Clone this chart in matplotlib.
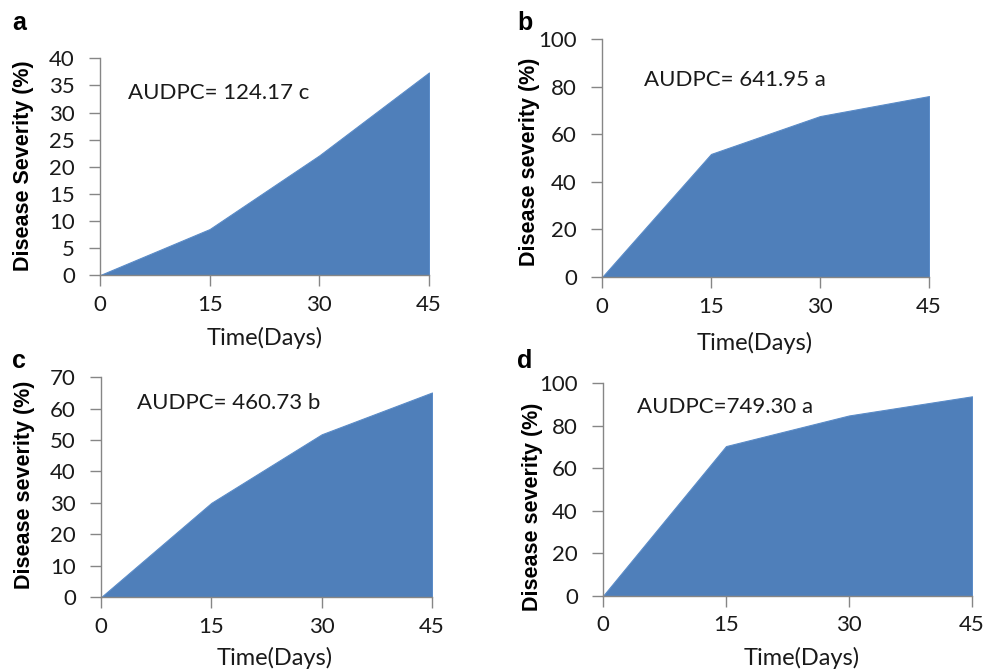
import matplotlib

matplotlib.use("Agg")
import matplotlib.pyplot as plt

# 病害严重度随时间的变化（0、15、30、45 天）
days = [0, 15, 30, 45]
severity_a = [0, 8.5, 22.1, 37.4]
severity_b = [0, 51.7, 67.6, 76.0]
severity_c = [0, 30.0, 51.8, 65.1]
severity_d = [0, 70.4, 84.8, 93.8]

panel_letters = ["a", "b", "c", "d"]
audpc_labels = ["AUDPC= 124.17 c", "AUDPC= 641.95 a", "AUDPC= 460.73 b", "AUDPC=749.30 a"]
ylabels = ["Disease Severity (%)", "Disease severity (%)",
           "Disease severity (%)", "Disease severity (%)"]
y_max = [40, 100, 70, 100]
y_step = [5, 20, 10, 20]

FILL = "#4F7FBA"
AXIS_GRAY = "#868686"
TEXT_FONT = "Lato"
TEXT_COLOR = "#1a1a1a"

fig = plt.figure(figsize=(10, 6.71), dpi=100)

# [left, bottom, width, height]
positions = [
    [0.100, 0.590, 0.329, 0.323],
    [0.602, 0.587, 0.327, 0.355],
    [0.101, 0.110, 0.331, 0.328],
    [0.603, 0.112, 0.369, 0.317],
]
text_pos = [(3.8, 33.7), (5.8, 82.8), (4.9, 61.7), (4.1, 88.7)]
letter_pos = [(0.012, 0.965), (0.517, 0.965), (0.012, 0.462), (0.517, 0.462)]
# 坐标轴标签位置（轴坐标系）
ylabel_xy = [(-0.234, 0.507), (-0.223, 0.483), (-0.230, 0.510), (-0.192, 0.420)]
xlabel_xy = [(0.50, -0.29), (0.468, -0.277), (0.526, -0.277), (0.539, -0.29)]

series = [severity_a, severity_b, severity_c, severity_d]

for i, values in enumerate(series):
    ax = fig.add_axes(positions[i])
    ax.fill_between(days, values, 0, color=FILL, edgecolor="#5B8CC8", linewidth=0.8)
    ax.set_xlim(0, 45)
    ax.set_ylim(0, y_max[i])
    ax.set_xticks(days)
    ax.set_yticks(range(0, y_max[i] + 1, y_step[i]))

    for side in ("top", "right"):
        ax.spines[side].set_visible(False)
    for side in ("left", "bottom"):
        ax.spines[side].set_color(AXIS_GRAY)
        ax.spines[side].set_linewidth(1.0)
    ax.tick_params(axis="both", direction="out", length=8, width=1.0,
                   color=AXIS_GRAY, labelsize=16)
    ax.tick_params(axis="y", pad=10)
    ax.tick_params(axis="x", pad=6)
    for lab in ax.get_xticklabels() + ax.get_yticklabels():
        lab.set_fontfamily(TEXT_FONT)
        lab.set_color(TEXT_COLOR)

    ax.set_xlabel("Time(Days)", fontsize=17, fontfamily=TEXT_FONT, color=TEXT_COLOR)
    ax.xaxis.set_label_coords(*xlabel_xy[i])
    ax.xaxis.label.set_va("center")
    ax.set_ylabel(ylabels[i], fontsize=15.5, fontweight="bold",
                  fontfamily="Liberation Sans")
    ax.yaxis.set_label_coords(*ylabel_xy[i])
    ax.yaxis.label.set_va("center")

    tx, ty = text_pos[i]
    ax.text(tx, ty, audpc_labels[i], fontsize=16, fontfamily=TEXT_FONT,
            color=TEXT_COLOR, va="center", ha="left")

    lx, ly = letter_pos[i]
    fig.text(lx, ly, panel_letters[i], fontsize=18, fontweight="bold",
             fontfamily="Liberation Sans", va="center", ha="left")

fig.savefig("out.png", dpi=100, facecolor="white")
plt.close(fig)
